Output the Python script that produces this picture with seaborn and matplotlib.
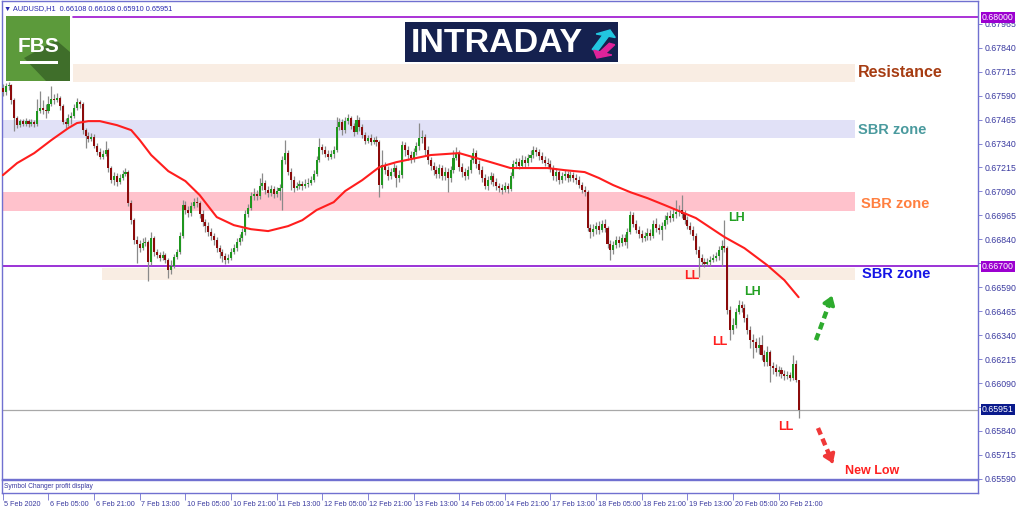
import matplotlib
matplotlib.use("Agg")
import numpy as np
import matplotlib.pyplot as plt
import matplotlib.transforms as mtransforms
from matplotlib.patches import Rectangle, Polygon, FancyArrow
import seaborn as sns

# AUDUSD H1 candles, 5 Feb 2020 13:00 .. 21 Feb 2020 04:00
first_open = 0.67630
closes = [
    0.67609, 0.67640, 0.67645, 0.67567, 0.67473, 0.67437, 0.67458, 0.67442, 0.67458, 0.67442,
    0.67453, 0.67442, 0.67510, 0.67525, 0.67515, 0.67510, 0.67546, 0.67572, 0.67567, 0.67577,
    0.67536, 0.67453, 0.67442, 0.67473, 0.67484, 0.67525, 0.67557, 0.67546, 0.67410, 0.67379,
    0.67363, 0.67374, 0.67327, 0.67296, 0.67269, 0.67285, 0.67306, 0.67212, 0.67150, 0.67171,
    0.67140, 0.67160, 0.67181, 0.67192, 0.67029, 0.66941, 0.66837, 0.66816, 0.66795, 0.66821,
    0.66827, 0.66722, 0.66847, 0.66775, 0.66759, 0.66743, 0.66759, 0.66732, 0.66680, 0.66701,
    0.66748, 0.66775, 0.66858, 0.67019, 0.66993, 0.66977, 0.67014, 0.67035, 0.67029, 0.66972,
    0.66931, 0.66910, 0.66879, 0.66858, 0.66837, 0.66795, 0.66775, 0.66754, 0.66732, 0.66743,
    0.66775, 0.66795, 0.66827, 0.66847, 0.66879, 0.66972, 0.67003, 0.67066, 0.67076, 0.67066,
    0.67118, 0.67134, 0.67097, 0.67081, 0.67102, 0.67076, 0.67092, 0.67108, 0.67254, 0.67290,
    0.67192, 0.67150, 0.67108, 0.67118, 0.67129, 0.67118, 0.67129, 0.67134, 0.67150, 0.67181,
    0.67254, 0.67322, 0.67306, 0.67285, 0.67269, 0.67285, 0.67306, 0.67426, 0.67453, 0.67410,
    0.67458, 0.67473, 0.67432, 0.67400, 0.67463, 0.67426, 0.67384, 0.67353, 0.67368, 0.67348,
    0.67358, 0.67348, 0.67123, 0.67228, 0.67202, 0.67171, 0.67192, 0.67212, 0.67160, 0.67176,
    0.67332, 0.67306, 0.67280, 0.67264, 0.67296, 0.67327, 0.67368, 0.67374, 0.67306, 0.67254,
    0.67223, 0.67202, 0.67181, 0.67212, 0.67171, 0.67192, 0.67160, 0.67202, 0.67264, 0.67290,
    0.67217, 0.67192, 0.67171, 0.67202, 0.67254, 0.67290, 0.67233, 0.67202, 0.67160, 0.67118,
    0.67150, 0.67171, 0.67140, 0.67118, 0.67108, 0.67097, 0.67118, 0.67102, 0.67171, 0.67233,
    0.67244, 0.67223, 0.67254, 0.67238, 0.67264, 0.67280, 0.67306, 0.67296, 0.67275, 0.67254,
    0.67238, 0.67233, 0.67212, 0.67171, 0.67192, 0.67150, 0.67171, 0.67181, 0.67160, 0.67176,
    0.67160, 0.67150, 0.67123, 0.67097, 0.67087, 0.66899, 0.66879, 0.66894, 0.66910, 0.66889,
    0.66920, 0.66899, 0.66816, 0.66785, 0.66811, 0.66837, 0.66821, 0.66847, 0.66827, 0.66879,
    0.66967, 0.66920, 0.66889, 0.66868, 0.66847, 0.66858, 0.66873, 0.66858, 0.66920, 0.66899,
    0.66889, 0.66910, 0.66941, 0.66962, 0.66951, 0.66972, 0.66983, 0.66993, 0.66972, 0.66941,
    0.66910, 0.66889, 0.66858, 0.66785, 0.66743, 0.66722, 0.66711, 0.66722, 0.66732, 0.66743,
    0.66754, 0.66785, 0.66806, 0.66795, 0.66472, 0.66367, 0.66394, 0.66462, 0.66498, 0.66482,
    0.66430, 0.66367, 0.66315, 0.66305, 0.66273, 0.66289, 0.66237, 0.66200, 0.66253, 0.66180,
    0.66169, 0.66148, 0.66159, 0.66138, 0.66128, 0.66133, 0.66117, 0.66190, 0.66108, 0.65951,
]
highs = [
    0.67650, 0.67655, 0.67660, 0.67650, 0.67577, 0.67484, 0.67468, 0.67468, 0.67473, 0.67468,
    0.67468, 0.67463, 0.67572, 0.67614, 0.67567, 0.67546, 0.67588, 0.67640, 0.67598, 0.67603,
    0.67588, 0.67546, 0.67473, 0.67494, 0.67504, 0.67546, 0.67577, 0.67567, 0.67557, 0.67421,
    0.67400, 0.67395, 0.67390, 0.67343, 0.67316, 0.67306, 0.67353, 0.67316, 0.67223, 0.67192,
    0.67186, 0.67181, 0.67202, 0.67212, 0.67202, 0.67045, 0.66951, 0.66858, 0.66837, 0.66847,
    0.66852, 0.66837, 0.66879, 0.66858, 0.66790, 0.66775, 0.66780, 0.66769, 0.66743, 0.66732,
    0.66764, 0.66790, 0.66879, 0.67045, 0.67040, 0.67014, 0.67035, 0.67056, 0.67061, 0.67040,
    0.66993, 0.66946, 0.66931, 0.66899, 0.66873, 0.66852, 0.66811, 0.66790, 0.66769, 0.66764,
    0.66795, 0.66816, 0.66847, 0.66868, 0.66899, 0.66993, 0.67024, 0.67087, 0.67108, 0.67097,
    0.67160, 0.67186, 0.67150, 0.67118, 0.67123, 0.67118, 0.67113, 0.67129, 0.67275, 0.67358,
    0.67306, 0.67212, 0.67171, 0.67140, 0.67150, 0.67145, 0.67155, 0.67160, 0.67171, 0.67202,
    0.67275, 0.67368, 0.67337, 0.67327, 0.67306, 0.67306, 0.67327, 0.67478, 0.67473, 0.67468,
    0.67478, 0.67494, 0.67484, 0.67447, 0.67489, 0.67478, 0.67442, 0.67400, 0.67384, 0.67390,
    0.67374, 0.67379, 0.67358, 0.67306, 0.67244, 0.67223, 0.67212, 0.67238, 0.67228, 0.67202,
    0.67353, 0.67348, 0.67327, 0.67301, 0.67316, 0.67348, 0.67447, 0.67410, 0.67390, 0.67327,
    0.67269, 0.67244, 0.67223, 0.67233, 0.67228, 0.67217, 0.67212, 0.67223, 0.67306, 0.67322,
    0.67306, 0.67238, 0.67212, 0.67223, 0.67275, 0.67316, 0.67306, 0.67254, 0.67223, 0.67181,
    0.67171, 0.67192, 0.67186, 0.67160, 0.67134, 0.67129, 0.67140, 0.67134, 0.67192, 0.67254,
    0.67264, 0.67264, 0.67280, 0.67275, 0.67285, 0.67306, 0.67327, 0.67322, 0.67311, 0.67296,
    0.67275, 0.67264, 0.67254, 0.67228, 0.67212, 0.67202, 0.67192, 0.67202, 0.67197, 0.67197,
    0.67192, 0.67181, 0.67171, 0.67140, 0.67118, 0.67097, 0.66920, 0.66920, 0.66931, 0.66936,
    0.66941, 0.66946, 0.66910, 0.66837, 0.66832, 0.66858, 0.66858, 0.66868, 0.66868, 0.66899,
    0.66988, 0.66983, 0.66941, 0.66910, 0.66889, 0.66879, 0.66899, 0.66894, 0.66941, 0.66951,
    0.66920, 0.66931, 0.66967, 0.66983, 0.66993, 0.67003, 0.67045, 0.67019, 0.67071, 0.66993,
    0.66962, 0.66931, 0.66910, 0.66873, 0.66806, 0.66764, 0.66743, 0.66743, 0.66754, 0.66764,
    0.66775, 0.66806, 0.66837, 0.66941, 0.66806, 0.66493, 0.66430, 0.66482, 0.66524, 0.66519,
    0.66503, 0.66451, 0.66388, 0.66346, 0.66326, 0.66331, 0.66341, 0.66263, 0.66284, 0.66263,
    0.66200, 0.66190, 0.66180, 0.66174, 0.66159, 0.66154, 0.66148, 0.66237, 0.66211, 0.66108,
]
lows = [
    0.67588, 0.67593, 0.67619, 0.67546, 0.67405, 0.67421, 0.67426, 0.67432, 0.67432, 0.67426,
    0.67432, 0.67426, 0.67432, 0.67499, 0.67494, 0.67473, 0.67499, 0.67536, 0.67546, 0.67557,
    0.67515, 0.67442, 0.67421, 0.67432, 0.67442, 0.67473, 0.67515, 0.67525, 0.67390, 0.67316,
    0.67348, 0.67353, 0.67316, 0.67280, 0.67259, 0.67259, 0.67275, 0.67192, 0.67134, 0.67123,
    0.67118, 0.67129, 0.67150, 0.67171, 0.67014, 0.66920, 0.66816, 0.66717, 0.66775, 0.66785,
    0.66806, 0.66623, 0.66706, 0.66754, 0.66743, 0.66727, 0.66732, 0.66717, 0.66639, 0.66659,
    0.66691, 0.66738, 0.66764, 0.66847, 0.66972, 0.66956, 0.66962, 0.67003, 0.67009, 0.66951,
    0.66910, 0.66879, 0.66858, 0.66837, 0.66811, 0.66775, 0.66743, 0.66722, 0.66711, 0.66717,
    0.66732, 0.66764, 0.66780, 0.66811, 0.66832, 0.66863, 0.66956, 0.66993, 0.67045, 0.67045,
    0.67050, 0.67097, 0.67076, 0.67061, 0.67066, 0.67056, 0.67061, 0.67045, 0.66993, 0.67233,
    0.67176, 0.67097, 0.67087, 0.67097, 0.67102, 0.67097, 0.67108, 0.67113, 0.67123, 0.67140,
    0.67171, 0.67244, 0.67285, 0.67269, 0.67254, 0.67259, 0.67264, 0.67296, 0.67410, 0.67384,
    0.67395, 0.67442, 0.67416, 0.67379, 0.67390, 0.67405, 0.67368, 0.67337, 0.67343, 0.67332,
    0.67337, 0.67327, 0.67061, 0.67108, 0.67181, 0.67150, 0.67155, 0.67171, 0.67113, 0.67140,
    0.67160, 0.67275, 0.67254, 0.67238, 0.67244, 0.67280, 0.67306, 0.67343, 0.67280, 0.67233,
    0.67202, 0.67176, 0.67160, 0.67160, 0.67150, 0.67150, 0.67087, 0.67140, 0.67186, 0.67254,
    0.67197, 0.67166, 0.67150, 0.67155, 0.67186, 0.67238, 0.67212, 0.67181, 0.67140, 0.67102,
    0.67097, 0.67129, 0.67118, 0.67097, 0.67087, 0.67076, 0.67087, 0.67081, 0.67092, 0.67160,
    0.67212, 0.67207, 0.67212, 0.67217, 0.67223, 0.67244, 0.67264, 0.67275, 0.67254, 0.67238,
    0.67223, 0.67212, 0.67192, 0.67150, 0.67145, 0.67129, 0.67134, 0.67150, 0.67140, 0.67145,
    0.67140, 0.67129, 0.67108, 0.67081, 0.67066, 0.66884, 0.66847, 0.66858, 0.66868, 0.66868,
    0.66879, 0.66879, 0.66795, 0.66732, 0.66764, 0.66795, 0.66800, 0.66806, 0.66811, 0.66795,
    0.66868, 0.66905, 0.66873, 0.66847, 0.66827, 0.66832, 0.66837, 0.66837, 0.66847, 0.66879,
    0.66868, 0.66837, 0.66894, 0.66920, 0.66931, 0.66936, 0.66951, 0.66962, 0.66951, 0.66920,
    0.66894, 0.66868, 0.66837, 0.66764, 0.66644, 0.66701, 0.66696, 0.66701, 0.66701, 0.66722,
    0.66727, 0.66732, 0.66701, 0.66775, 0.66451, 0.66315, 0.66346, 0.66377, 0.66451, 0.66462,
    0.66409, 0.66346, 0.66273, 0.66221, 0.66253, 0.66242, 0.66211, 0.66180, 0.66180, 0.66096,
    0.66138, 0.66128, 0.66128, 0.66117, 0.66107, 0.66112, 0.66102, 0.66107, 0.66096, 0.65910,
]

# red moving average, read at a subset of bars
ma_bars = [0, 5, 11, 17, 23, 26, 30, 34, 40, 45, 48, 52, 58, 64, 69, 75, 81, 87, 93, 100,
           105, 110, 116, 120, 126, 132, 138, 150, 160, 171, 178, 185, 191, 197, 204, 209, 214,
           220, 226, 232, 238, 243, 253, 260, 268, 274, 279]
ma_values = [0.67175, 0.67238, 0.67290, 0.67358, 0.67421, 0.67447, 0.67457, 0.67457, 0.67436,
             0.67410, 0.67358, 0.67280, 0.67196, 0.67144, 0.67071, 0.66956, 0.66914, 0.66893,
             0.66883, 0.66909, 0.66940, 0.66993, 0.67034, 0.67092, 0.67149, 0.67217, 0.67243,
             0.67280, 0.67290, 0.67243, 0.67212, 0.67212, 0.67212, 0.67201, 0.67191, 0.67160,
             0.67123, 0.67086, 0.67055, 0.67019, 0.66982, 0.66951, 0.66852, 0.66794, 0.66705,
             0.66627, 0.66538]

time_bars = [0, 16, 32, 48, 64, 80, 96, 112, 128, 144, 160, 176, 192, 208, 224, 240, 256, 272]
time_labels = ['5 Feb 2020', '6 Feb 05:00', '6 Feb 21:00', '7 Feb 13:00', '10 Feb 05:00',
               '10 Feb 21:00', '11 Feb 13:00', '12 Feb 05:00', '12 Feb 21:00', '13 Feb 13:00',
               '14 Feb 05:00', '14 Feb 21:00', '17 Feb 13:00', '18 Feb 05:00', '18 Feb 21:00',
               '19 Feb 13:00', '20 Feb 05:00', '20 Feb 21:00']

price_ticks = [0.67965, 0.67840, 0.67715, 0.67590, 0.67465, 0.67340, 0.67215, 0.67090,
               0.66965, 0.66840, 0.66715, 0.66590, 0.66465, 0.66340, 0.66215, 0.66090,
               0.65965, 0.65840, 0.65715, 0.65590]

# zones (low, high)
resistance_zone = (0.67661, 0.67755)
sbr_zone_1 = (0.67369, 0.67463)
sbr_zone_2 = (0.66988, 0.67087)
sbr_zone_3 = (0.66628, 0.66690)

top_level = 0.68000
mid_level = 0.66700
bid_level = 0.65951

FRAME = '#7070d0'
AXTEXT = '#3a3aa0'


def fx(px):
    return px / 1024


def fy(py):
    return 1 - py / 511


def draw_logos(fig):
    tf = fig.transFigure
    # FBS logo
    fig.add_artist(Rectangle((fx(6), fy(81)), fx(64), 65 / 511, transform=tf,
                             facecolor='#5c9a3b', edgecolor='none'))
    fig.add_artist(Polygon([(fx(24), fy(58)), (fx(56), fy(40)), (fx(70), fy(52)),
                            (fx(70), fy(81)), (fx(46), fy(81))], closed=True,
                           transform=tf, facecolor='#3f6e2a', edgecolor='none'))
    fig.text(fx(39), fy(46), 'FBS', transform=tf, color='white', fontsize=15,
             fontweight='bold', ha='center', va='center')
    fig.add_artist(Rectangle((fx(20), fy(64)), fx(38), 3 / 511, transform=tf,
                             facecolor='white', edgecolor='none'))
    # INTRADAY logo
    fig.add_artist(Rectangle((fx(405), fy(62)), fx(213), 40 / 511, transform=tf,
                             facecolor='#15214f', edgecolor='none'))
    fig.text(fx(411), fy(43), 'INTRADAY', transform=tf, color='white', fontsize=24.5,
             fontweight='bold', ha='left', va='center')
    fig.add_artist(FancyArrow(fx(595), fy(50), fx(15), 20 / 511,
                              width=0.006, head_width=0.02, head_length=0.012,
                              length_includes_head=True, transform=tf, color='#22c6e0'))
    fig.add_artist(FancyArrow(fx(612), fy(44), -fx(15), -14 / 511,
                              width=0.006, head_width=0.02, head_length=0.012,
                              length_includes_head=True, transform=tf, color='#e0239a'))


def main():
    sns.set_style('white')
    plt.rcParams['font.family'] = ['Liberation Sans', 'DejaVu Sans']

    fig = plt.figure(figsize=(10.24, 5.11), dpi=100)
    ax = fig.add_axes([fx(2), fy(479), 976 / 1024, 478 / 511])
    sub = fig.add_axes([fx(2), fy(493), 976 / 1024, 13 / 511])

    o = np.array([first_open] + closes[:-1])
    c = np.array(closes)
    h = np.array(highs)
    l = np.array(lows)
    idx = np.arange(len(c))
    bull = c >= o

    # zones
    ax.axhspan(*resistance_zone, xmin=0.0727, xmax=0.874, color='#f9ede3', lw=0, zorder=1)
    ax.axhspan(*sbr_zone_1, xmin=0, xmax=0.874, color='#e1e1f7', lw=0, zorder=1)
    ax.axhspan(*sbr_zone_2, xmin=0, xmax=0.874, color='#ffc2cc', lw=0, zorder=1)
    ax.axhspan(*sbr_zone_3, xmin=0.1025, xmax=0.874, color='#f9ede3', lw=0, zorder=1)

    ax.axhline(top_level, xmin=0.0727, color='#9c10d0', lw=1.2, zorder=2)
    ax.axhline(mid_level, color='#8a10d0', lw=1.2, zorder=2)
    ax.axhline(bid_level, color='#a8a8a8', lw=0.9, zorder=2)

    # candles
    ax.vlines(idx, l, h, color='#8a8a8a', lw=0.9, zorder=3)
    bottom = np.minimum(o, c)
    height = np.maximum(np.abs(c - o), 0.00002)
    ax.bar(idx[bull], height[bull], bottom=bottom[bull], width=0.72,
           color='#1e961e', edgecolor='none', zorder=4)
    ax.bar(idx[~bull], height[~bull], bottom=bottom[~bull], width=0.72,
           color='#8b0b0b', edgecolor='none', zorder=4)

    sns.lineplot(x=ma_bars, y=ma_values, ax=ax, color='#ff1e1e', lw=1.5, zorder=5)

    ax.set_xlim(-0.3, 341.9)
    ax.set_ylim(0.65589, 0.68084)
    ax.set_xticks([])
    ax.yaxis.tick_right()
    ax.set_yticks(price_ticks)
    # the two labels hidden behind the level boxes are left blank
    hidden = {0.66715, 0.65965}
    ax.set_yticklabels(['' if v in hidden else f'{v:.5f}' for v in price_ticks])
    ax.tick_params(axis='y', right=True, length=3, width=0.6, color=FRAME,
                   labelsize=6.3, labelcolor=AXTEXT, pad=2)
    ax.set_xlabel('')
    ax.set_ylabel('')
    for sp in ax.spines.values():
        sp.set_color(FRAME)
        sp.set_linewidth(1.0)

    trans = mtransforms.blended_transform_factory(ax.transAxes, ax.transData)
    for val, fc in [(top_level, '#9c00d0'), (mid_level, '#9c00d0'), (bid_level, '#0a1a8c')]:
        ax.text(1.004, val, f'{val:.5f}', transform=trans, fontsize=6.3, color='white',
                ha='left', va='center', zorder=10, clip_on=False,
                bbox=dict(boxstyle='square,pad=0.12', fc=fc, ec='none'))

    # header
    ax.text(0.002, 0.985, '\u25bc AUDUSD,H1  0.66108 0.66108 0.65910 0.65951',
            transform=ax.transAxes, fontsize=5.3, color='#2a2ab0', ha='left', va='center')

    # zone labels
    ax.text(299.8, 0.67713, 'Resistance', color='#a63c12', fontsize=11.5,
            fontweight='bold', va='center', ha='left')
    ax.text(299.8, 0.67410, 'SBR zone', color='#4a9a9e', fontsize=10.5,
            fontweight='bold', va='center', ha='left')
    ax.text(300.9, 0.67024, 'SBR zone', color='#ff7f3f', fontsize=10.5,
            fontweight='bold', va='center', ha='left')
    ax.text(301.2, 0.66659, 'SBR zone', color='#1414e6', fontsize=10.5,
            fontweight='bold', va='center', ha='left')

    # swing labels
    for x, y, s, col in [(257.1, 0.66951, 'LH', '#22a022'), (262.7, 0.66565, 'LH', '#22a022'),
                         (241.6, 0.66648, 'LL', '#ff2020'), (251.5, 0.66304, 'LL', '#ff2020'),
                         (274.6, 0.65860, 'LL', '#ff2020')]:
        ax.text(x, y, s, color=col, fontsize=9, fontweight='bold', ha='center', va='center')
    ax.text(304.7, 0.65630, 'New Low', color='#ff2020', fontsize=9, fontweight='bold',
            ha='center', va='center')

    # dashed direction arrows
    for tail, head, col in [((285.1, 0.66314), (291.1, 0.66560), '#2eab2e'),
                            ((285.8, 0.65855), (291.4, 0.65657), '#f03838')]:
        mid = (tail[0] + 0.8 * (head[0] - tail[0]), tail[1] + 0.8 * (head[1] - tail[1]))
        ax.plot([tail[0], mid[0]], [tail[1], mid[1]], color=col, lw=3.2,
                ls=(0, (1.6, 1.0)), solid_capstyle='butt', zorder=6)
        ax.annotate('', xy=head, xytext=mid,
                    arrowprops=dict(arrowstyle='-|>,head_length=0.5,head_width=0.35',
                                    color=col, lw=2.5), zorder=6)

    # sub-window with the time axis
    sub.set_xlim(ax.get_xlim())
    sub.set_ylim(0, 1)
    sub.set_yticks([])
    sub.set_xticks(time_bars)
    sub.set_xticklabels(time_labels)
    sub.tick_params(axis='x', bottom=True, length=5, width=0.6, color=FRAME,
                    labelsize=5.2, labelcolor=AXTEXT, pad=0.5)
    offset = mtransforms.ScaledTranslation(1.5 / 100, 0, fig.dpi_scale_trans)
    for lbl in sub.get_xticklabels():
        lbl.set_horizontalalignment('left')
        lbl.set_transform(lbl.get_transform() + offset)
    for sp in sub.spines.values():
        sp.set_color(FRAME)
        sp.set_linewidth(1.0)
    sub.text(0.002, 0.5, 'Symbol Changer profit display', transform=sub.transAxes,
             fontsize=4.8, color=AXTEXT, ha='left', va='center')

    draw_logos(fig)

    fig.savefig('out.png', dpi=100, facecolor='white')
    plt.close(fig)


if __name__ == "__main__":
    main()
